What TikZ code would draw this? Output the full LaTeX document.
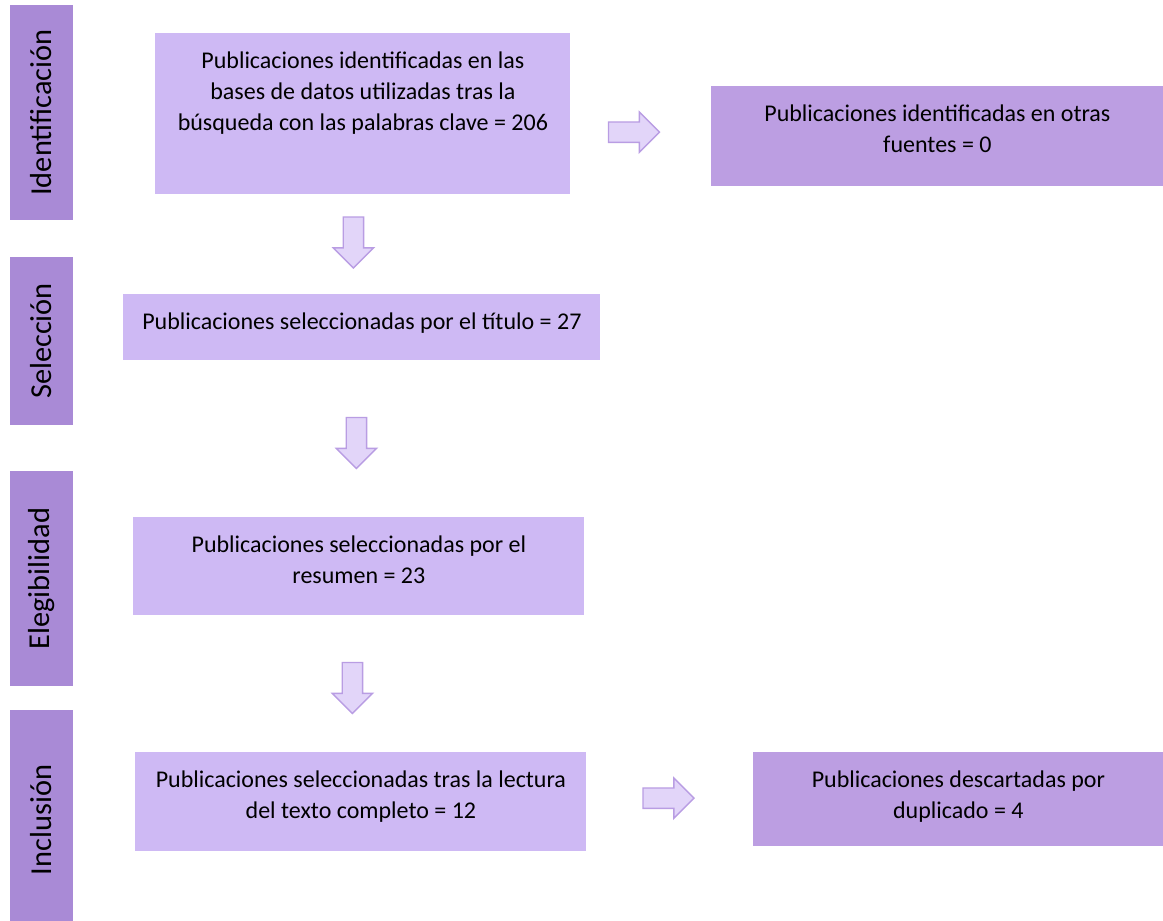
\documentclass[tikz,border=0pt]{standalone}
\usepackage{fontspec}
\setmainfont{Carlito}
\usetikzlibrary{shapes.arrows,calc}
\definecolor{fasecolor}{HTML}{A98AD6}
\definecolor{cajacolor}{HTML}{CEB9F4}
\definecolor{otracolor}{HTML}{BC9EE2}
\definecolor{flechacolor}{HTML}{E2D5F9}
\definecolor{bordecolor}{HTML}{B99DE3}
% text block of a box: width, height, lines
\newcommand{\cajatexto}[3]{\parbox[c][#2][t]{#1}{\centering\rule{0pt}{17.5pt}#3}}
\tikzset{
  fase/.style={fill=fasecolor, rotate=90, inner sep=0pt, minimum height=31.5pt,
    font=\fontsize{15.2}{17}\selectfont},
  caja/.style={fill=cajacolor, inner sep=0pt, anchor=north west,
    font=\fontsize{12}{15.5}\selectfont},
  otra/.style={caja, fill=otracolor},
  flecha/.style={single arrow, single arrow head extend=5pt, inner sep=4.75pt,
    minimum height=25.5pt, fill=flechacolor, draw=bordecolor, line width=0.7pt}
}
\begin{document}
\begin{tikzpicture}[x=0.5pt,y=-0.5pt]
	\useasboundingbox (0,0) rectangle (1163,921);
	% phases
	\node[fase, minimum width=107.5pt] (ident) at (41.5,112.5) {Identificación};
	\node[fase, minimum width=84pt] (sel) at (41.5,341) {Selección};
	\node[fase, minimum width=107.5pt] (eleg) at (41.5,578.5) {Elegibilidad};
	\node[fase, minimum width=110pt] (incl) at (41.5,820) {Inclusión};
	% boxes
	\node[caja] (bases) at (155,33) {\cajatexto{207.5pt}{80.5pt}{Publicaciones identificadas en las\\ bases de datos utilizadas tras la\\ búsqueda con las palabras clave = 206}};
	\node[otra] (otras) at (711,86) {\cajatexto{226pt}{50pt}{Publicaciones identificadas en otras\\ fuentes = 0}};
	\node[caja] (titulo) at (123,294) {\cajatexto{238.5pt}{33pt}{Publicaciones seleccionadas por el título = 27}};
	\node[caja] (resumen) at (133,517) {\cajatexto{225.5pt}{49pt}{Publicaciones seleccionadas por el\\ resumen = 23}};
	\node[caja] (lectura) at (135,752) {\cajatexto{225.5pt}{49.5pt}{Publicaciones seleccionadas tras la lectura\\ del texto completo = 12}};
	\node[otra] (duplic) at (753,752) {\cajatexto{205pt}{47pt}{Publicaciones descartadas por\\ duplicado = 4}};
	% arrows
	\node[flecha] (f1) at ($(bases.east)!0.5!(otras.west)+(-12,7)$) {};
	\node[flecha, rotate=-90] (f2) at ($(bases.south)!0.5!(titulo.north)+(-9,-7)$) {};
	\node[flecha, rotate=-90] (f3) at ($(titulo.south)!0.5!(resumen.north)+(-4,-1)$) {};
	\node[flecha, rotate=-90] (f4) at ($(resumen.south)!0.5!(lectura.north)+(-7.5,-1)$) {};
	\node[flecha] (f5) at ($(lectura.east)!0.5!(duplic.west)+(-6.5,-2.5)$) {};
\end{tikzpicture}
\end{document}
